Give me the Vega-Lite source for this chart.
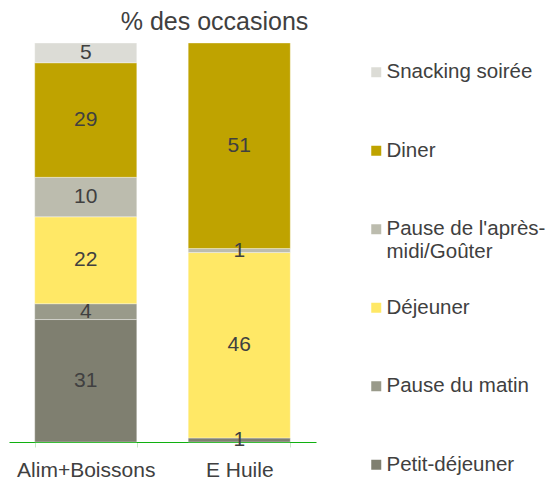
{
  "$schema": "https://vega.github.io/schema/vega-lite/v6.json",
  "autosize": {"type": "none"},
  "padding": {"left": 9, "top": 43, "right": 235, "bottom": 37},
  "width": 307,
  "height": 399,
  "background": "white",
  "config": {"view": {"stroke": null}, "font": "Liberation Sans"},
  "title": {"text": "% des occasions", "fontSize": 25, "font": "Liberation Sans", "fontWeight": "normal", "color": "#404040", "anchor": "middle", "dx": 52, "dy": 26, "baseline": "alphabetic", "offset": 13, "frame": "group"},
  "data": {"values": [
    {"cat": "Alim+Boissons", "occ": "Petit-déjeuner", "ord": 1, "v": 31},
    {"cat": "Alim+Boissons", "occ": "Pause du matin", "ord": 2, "v": 4},
    {"cat": "Alim+Boissons", "occ": "Déjeuner", "ord": 3, "v": 22},
    {"cat": "Alim+Boissons", "occ": "Pause de l'après-midi/Goûter", "ord": 4, "v": 10},
    {"cat": "Alim+Boissons", "occ": "Diner", "ord": 5, "v": 29},
    {"cat": "Alim+Boissons", "occ": "Snacking soirée", "ord": 6, "v": 5},
    {"cat": "E Huile", "occ": "Petit-déjeuner", "ord": 1, "v": 1},
    {"cat": "E Huile", "occ": "Déjeuner", "ord": 3, "v": 46},
    {"cat": "E Huile", "occ": "Pause de l'après-midi/Goûter", "ord": 4, "v": 1},
    {"cat": "E Huile", "occ": "Diner", "ord": 5, "v": 51}
  ]},
  "encoding": {
    "x": {"field": "cat", "type": "nominal", "title": null,
      "scale": {"paddingInner": 0.335, "paddingOuter": 0.1675},
      "axis": {"labelAngle": 0, "domainColor": "#10b010", "domainWidth": 1.2, "tickColor": "#c8e8c8", "tickBand": "extent", "tickSize": 5, "labelFontSize": 21, "labelColor": "#404040", "labelPadding": 12, "labelFont": "Liberation Sans"}},
    "y": {"field": "v", "type": "quantitative", "stack": "normalize", "axis": null, "scale": {"domain": [0, 1]}},
    "order": {"field": "ord", "type": "quantitative", "sort": "ascending"}
  },
  "layer": [
    {"mark": {"type": "bar", "stroke": "white", "strokeWidth": 0.5, "strokeOpacity": 0.7},
     "encoding": {
       "color": {"field": "occ", "type": "nominal",
         "scale": {"domain": ["Snacking soirée", "Diner", "Pause de l'après-midi/Goûter", "Déjeuner", "Pause du matin", "Petit-déjeuner"],
                   "range": ["#dcdcd6", "#bfa300", "#bcbcae", "#ffe866", "#999a8a", "#7f7f70"]},
         "legend": {"title": null, "orient": "none", "legendX": 357, "legendY": 19, "symbolType": "square", "symbolSize": 100, "symbolStrokeWidth": 0, "labelFontSize": 20.5, "labelColor": "#404040", "labelFont": "Liberation Sans", "labelLimit": 200, "rowPadding": 34.5, "labelOffset": 0,
           "labelExpr": "datum.label == \"Pause de l'après-midi/Goûter\" ? [\"Pause de l'après-\", \"midi/Goûter\"] : [datum.label, \" \"]"}}
     }},
    {"mark": {"type": "text", "fontSize": 21, "color": "#404040", "font": "Liberation Sans"},
     "encoding": {
       "y": {"field": "v", "type": "quantitative", "stack": "normalize", "bandPosition": 0.5},
       "text": {"field": "v", "type": "quantitative"}
     }}
  ]
}
